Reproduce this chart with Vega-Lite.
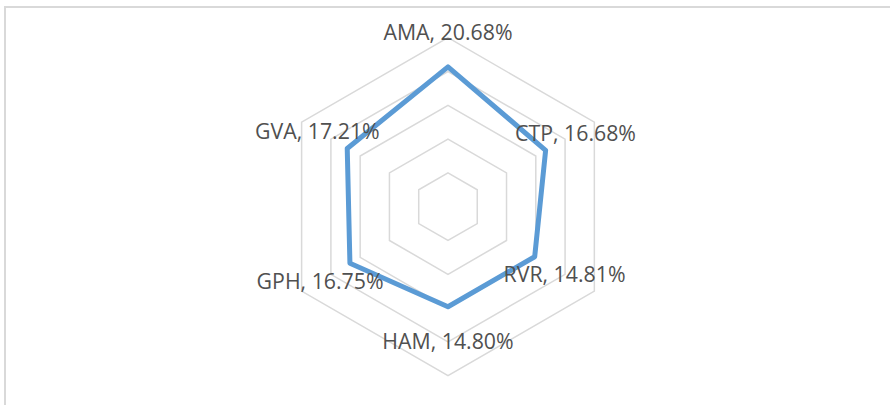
{
  "$schema": "https://vega.github.io/schema/vega-lite/v6.json",
  "width": 890,
  "height": 405,
  "autosize": {"type": "fit", "contains": "padding"},
  "padding": {"left": 5, "top": 7, "right": -3, "bottom": -3},
  "background": "white",
  "config": {"view": {"stroke": "#D9D9D9", "strokeWidth": 2}},
  "datasets": {
    "series": [
      {"cat": "AMA", "i": 0, "value": 20.68},
      {"cat": "CTP", "i": 1, "value": 16.68},
      {"cat": "RVR", "i": 2, "value": 14.81},
      {"cat": "HAM", "i": 3, "value": 14.80},
      {"cat": "GPH", "i": 4, "value": 16.75},
      {"cat": "GVA", "i": 5, "value": 17.21}
    ],
    "rings": [
      {"r": 5, "i": 0}, {"r": 5, "i": 1}, {"r": 5, "i": 2}, {"r": 5, "i": 3}, {"r": 5, "i": 4}, {"r": 5, "i": 5},
      {"r": 10, "i": 0}, {"r": 10, "i": 1}, {"r": 10, "i": 2}, {"r": 10, "i": 3}, {"r": 10, "i": 4}, {"r": 10, "i": 5},
      {"r": 15, "i": 0}, {"r": 15, "i": 1}, {"r": 15, "i": 2}, {"r": 15, "i": 3}, {"r": 15, "i": 4}, {"r": 15, "i": 5},
      {"r": 20, "i": 0}, {"r": 20, "i": 1}, {"r": 20, "i": 2}, {"r": 20, "i": 3}, {"r": 20, "i": 4}, {"r": 20, "i": 5},
      {"r": 25, "i": 0}, {"r": 25, "i": 1}, {"r": 25, "i": 2}, {"r": 25, "i": 3}, {"r": 25, "i": 4}, {"r": 25, "i": 5}
    ]
  },
  "layer": [
    {
      "data": {"name": "rings"},
      "transform": [
        {"calculate": "PI/2 - datum.i*PI/3", "as": "theta"},
        {"calculate": "datum.r*cos(datum.theta)", "as": "px"},
        {"calculate": "datum.r*sin(datum.theta)", "as": "py"}
      ],
      "mark": {"type": "line", "interpolate": "linear-closed", "color": "#D9D9D9", "strokeWidth": 1.5},
      "encoding": {
        "x": {"field": "px", "type": "quantitative", "scale": {"domain": [-65.53, 65.83], "nice": false, "zero": false}, "axis": null},
        "y": {"field": "py", "type": "quantitative", "scale": {"domain": [-29.78, 29.54], "nice": false, "zero": false}, "axis": null},
        "detail": {"field": "r", "type": "nominal"},
        "order": {"field": "i", "type": "quantitative"}
      }
    },
    {
      "data": {"name": "series"},
      "transform": [
        {"calculate": "PI/2 - datum.i*PI/3", "as": "theta"},
        {"calculate": "datum.value*cos(datum.theta)", "as": "px"},
        {"calculate": "datum.value*sin(datum.theta)", "as": "py"}
      ],
      "mark": {"type": "line", "interpolate": "linear-closed", "color": "#5B9BD5", "strokeWidth": 5, "strokeJoin": "round"},
      "encoding": {
        "x": {"field": "px", "type": "quantitative"},
        "y": {"field": "py", "type": "quantitative"},
        "order": {"field": "i", "type": "quantitative"}
      }
    },
    {
      "data": {"name": "series"},
      "transform": [
        {"calculate": "PI/2 - datum.i*PI/3", "as": "theta"},
        {"calculate": "(datum.value + 5.1)*cos(datum.theta)", "as": "lx"},
        {"calculate": "(datum.value + 5.1)*sin(datum.theta)", "as": "ly"},
        {"calculate": "datum.cat + ', ' + format(datum.value, '.2f') + '%'", "as": "label"}
      ],
      "mark": {"type": "text", "font": "Open Sans", "fontSize": 21.3, "color": "#505050", "align": "center", "baseline": "middle", "dy": 2},
      "encoding": {
        "x": {"field": "lx", "type": "quantitative"},
        "y": {"field": "ly", "type": "quantitative"},
        "text": {"field": "label", "type": "nominal"}
      }
    }
  ]
}
